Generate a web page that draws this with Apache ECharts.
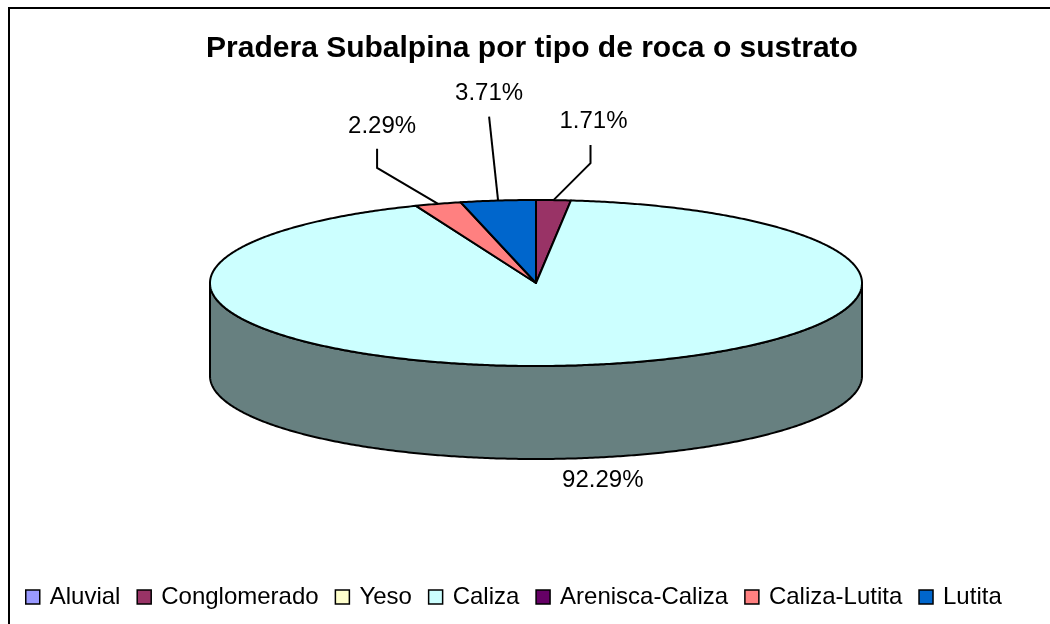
<!DOCTYPE html>
<html>
<head>
<meta charset="utf-8">
<script src="https://cdn.jsdelivr.net/npm/echarts@6/dist/echarts.min.js"></script>
<style>
  html, body { margin: 0; padding: 0; background: #ffffff; }
  #chart { width: 1050px; height: 624px; }
</style>
</head>
<body>
<div id="chart"></div>
<script>
// Rock / substrate types and their share of the subalpine meadow (%)
const categories = ['Aluvial', 'Conglomerado', 'Yeso', 'Caliza', 'Arenisca-Caliza', 'Caliza-Lutita', 'Lutita'];
const shares = [0, 1.71, 0, 92.29, 0, 2.29, 3.71];
const topColors = ['#9999FF', '#993366', '#FFFFCC', '#CCFFFF', '#660066', '#FF8080', '#0066CC'];
const sideColors = ['#4D4D80', '#4D1A33', '#808066', '#678080', '#330033', '#804040', '#003366'];
const chartTitle = 'Pradera Subalpina por tipo de roca o sustrato';

// Pie geometry (pixels): centre of top face, radii of the ellipse, thickness
const PIE = { cx: 536, cy: 283, rx: 326, ry: 83, depth: 93 };

// Label placement relative to the slice's edge anchor
const labelLayout = {
  'Conglomerado': { leader: [[37, -37], [37, -55]], text: [40, -79] },
  'Caliza-Lutita': { leader: [[-61, -36], [-61, -55]], text: [-56, -77] },
  'Lutita': { leader: [[-9, -84]], text: [-9, -107] },
  'Caliza': { bottom: true, text: [23, 22] }
};

const FONT = '"Liberation Sans", Arial, sans-serif';

const total = shares.reduce((a, b) => a + b, 0);
const startAngles = [];
(function () {
  let acc = 0;
  shares.forEach((v) => { startAngles.push(acc / total * 360); acc += v; });
})();

function edgePoint(deg, dy) {
  const r = deg * Math.PI / 180;
  return [PIE.cx + PIE.rx * Math.sin(r), PIE.cy - PIE.ry * Math.cos(r) + (dy || 0)];
}

function arcPoints(a0, a1, dy) {
  const pts = [];
  const n = Math.max(2, Math.ceil((a1 - a0) / 0.5));
  for (let k = 0; k <= n; k++) pts.push(edgePoint(a0 + (a1 - a0) * k / n, dy));
  return pts;
}

function makeRenderItem(idx) {
  return function (params, api) {
    const value = api.value(0);
    if (!(value > 0)) return { type: 'group', children: [] };
    const a0 = startAngles[idx];
    const a1 = a0 + value / total * 360;
    const children = [];

    // visible outer wall: the part of the rim facing the viewer (90°..270°)
    const s0 = Math.max(a0, 90), s1 = Math.min(a1, 270);
    if (s1 > s0) {
      const upper = arcPoints(s0, s1, 0);
      const lower = arcPoints(s0, s1, PIE.depth).reverse();
      children.push({
        type: 'polygon', z2: 1,
        shape: { points: upper.concat(lower) },
        style: { fill: sideColors[idx], stroke: '#000', lineWidth: 2, lineJoin: 'round' }
      });
    }

    // top face
    const top = [[PIE.cx, PIE.cy]].concat(arcPoints(a0, a1, 0));
    children.push({
      type: 'polygon', z2: 10,
      shape: { points: top },
      style: { fill: topColors[idx], stroke: '#000', lineWidth: 2, lineJoin: 'round' }
    });

    // value label
    const lay = labelLayout[categories[idx]];
    if (lay) {
      const mid = (a0 + a1) / 2;
      const anchor = edgePoint(mid, lay.bottom ? PIE.depth : 0);
      if (lay.leader) {
        const pts = [anchor].concat(lay.leader.map(p => [anchor[0] + p[0], anchor[1] + p[1]]));
        children.push({
          type: 'polyline', z2: 20,
          shape: { points: pts },
          style: { stroke: '#000', lineWidth: 2, fill: null }
        });
      }
      children.push({
        type: 'text', z2: 20,
        x: anchor[0] + lay.text[0], y: anchor[1] + lay.text[1],
        style: {
          text: value.toFixed(2) + '%',
          fill: '#000', font: '24px ' + FONT,
          align: 'center', verticalAlign: 'middle'
        }
      });
    }
    return { type: 'group', children: children };
  };
}

const chart = echarts.init(document.getElementById('chart'), null, { renderer: 'canvas' });

chart.setOption({
  backgroundColor: '#ffffff',
  animation: false,
  legend: {
    left: 20, top: 580,
    itemWidth: 14, itemHeight: 14, itemGap: 16,
    textStyle: { fontFamily: FONT, fontSize: 24, color: '#000', padding: [0, 0, 0, 5] },
    data: categories.map((n, i) => ({
      name: n, icon: 'rect',
      itemStyle: { color: topColors[i], borderColor: '#000', borderWidth: 1.5 }
    }))
  },
  graphic: [{
    type: 'rect', silent: true, z: -1,
    shape: { x: 9, y: 8, width: 1100, height: 700 },
    style: { fill: null, stroke: '#000', lineWidth: 2 }
  }, {
    type: 'text', silent: true,
    x: 532, y: 49,
    style: {
      text: chartTitle, fill: '#000',
      font: 'bold 30px ' + FONT,
      align: 'center', verticalAlign: 'middle'
    }
  }],
  series: categories.map((name, i) => ({
    type: 'custom',
    name: name,
    coordinateSystem: 'none',
    itemStyle: { color: topColors[i] },
    data: [shares[i]],
    renderItem: makeRenderItem(i)
  }))
});
</script>
</body>
</html>
